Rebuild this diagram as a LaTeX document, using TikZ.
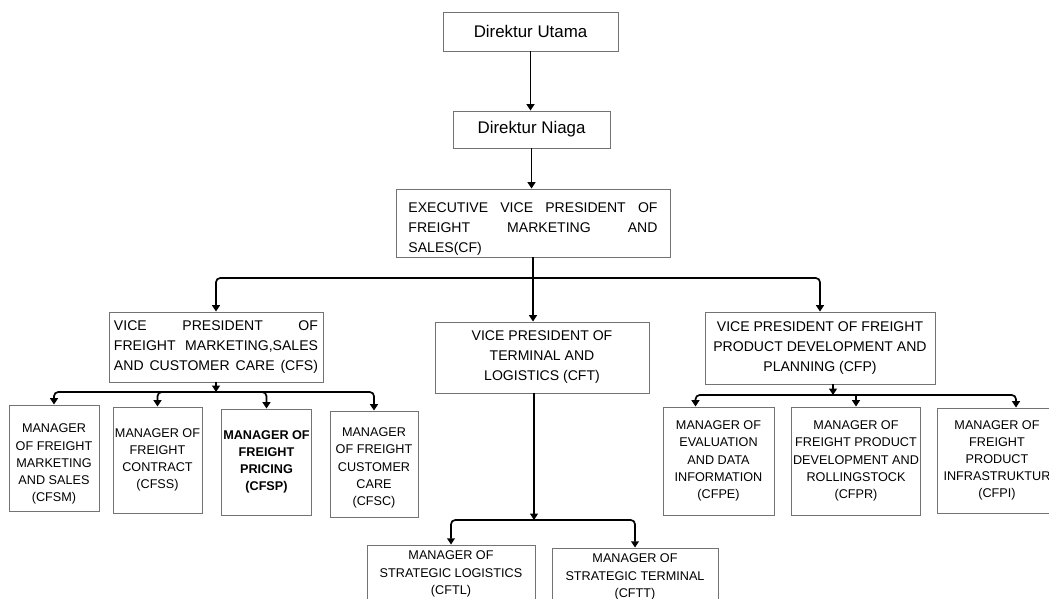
\documentclass[tikz,border=0pt]{standalone}
\usepackage{fontspec}
\setmainfont{Liberation Sans}
\usetikzlibrary{arrows.meta,positioning}

\begin{document}
\begin{tikzpicture}[x=0.025cm,y=-0.025cm]
  \tikzset{box/.style = {shape=rectangle,draw=black!55,line width=0.6pt,inner sep=1pt,align=center}}
  \tikzset{dirbox/.style = {box,font=\fontsize{12}{14}\selectfont}}
  \tikzset{vpbox/.style = {box,font=\fontsize{10}{14.2}\selectfont}}
  \tikzset{mgrbox/.style = {box,font=\fontsize{9}{12.2}\selectfont,minimum height=2.65cm}}
  \tikzset{%
  tipA/.tip={Triangle[length=4.5pt,width=5.5pt]},
}
  \tikzset{link/.style = {-tipA,line width=1.2pt}}

  \clip (0,0) rectangle (1049,598);

	\node[dirbox,minimum width=4.375cm,minimum height=0.975cm] (DU) at (530.5,31.5) {Direktur Utama};
	\node[dirbox,minimum width=3.925cm,minimum height=0.925cm] (DN) at (531.5,129.5) {Direktur Niaga};

	\node[vpbox,align=left,text width=6.225cm,inner xsep=0.3125cm,minimum height=1.7cm] (EVP) at (533,223)
	  {\rule{0pt}{15pt}EXECUTIVE\hfill VICE\hfill PRESIDENT\hfill OF\\ FREIGHT\hfill MARKETING\hfill AND\\ SALES(CF)};

	\node[vpbox,align=left,text width=5.1cm,inner xsep=0.125cm,minimum height=1.75cm] (CFS) at (216,347)
	  {VICE\hfill PRESIDENT\hfill OF\\ FREIGHT\hfill MARKETING,SALES\\ AND\hfill CUSTOMER\hfill CARE\hfill (CFS)};
	\node[vpbox,minimum width=5.35cm,minimum height=1.775cm] (CFT) at (542,357.5)
	  {VICE PRESIDENT OF\\ TERMINAL AND\\ LOGISTICS (CFT)};
	\node[vpbox,minimum width=5.75cm,minimum height=1.8cm] (CFP) at (820,348)
	  {VICE PRESIDENT OF FREIGHT\\ PRODUCT DEVELOPMENT AND\\ PLANNING (CFP)};

	\node[mgrbox,minimum width=2.25cm] (CFSM) at (54,458) {\rule{0pt}{15pt}MANAGER\\ OF FREIGHT\\ MARKETING\\ AND SALES\\ (CFSM)};
	\node[mgrbox,minimum width=2.225cm] (CFSS) at (157.5,460) {MANAGER OF\\ FREIGHT\\ CONTRACT\\ (CFSS)};
	\node[mgrbox,minimum width=2.225cm,font=\fontsize{9}{12.2}\selectfont\bfseries] (CFSP) at (266.5,462) {MANAGER OF\\ FREIGHT\\ PRICING\\ (CFSP)};
	\node[mgrbox,minimum width=2.2cm] (CFSC) at (374,464) {\rule{0pt}{12pt}MANAGER\\ OF FREIGHT\\ CUSTOMER\\ CARE\\ (CFSC)};

	\node[mgrbox,minimum width=2.775cm,minimum height=2.7cm] (CFPE) at (718.5,461) {MANAGER OF\\ EVALUATION\\ AND DATA\\ INFORMATION\\ (CFPE)};
	\node[mgrbox,minimum width=3.2cm,minimum height=2.7cm] (CFPR) at (856,461) {MANAGER OF\\ FREIGHT PRODUCT\\ DEVELOPMENT AND\\ ROLLINGSTOCK\\ (CFPR)};
	\node[mgrbox,minimum width=3.0cm,minimum height=2.625cm] (CFPI) at (997,460.5) {MANAGER OF\\ FREIGHT\\ PRODUCT\\ INFRASTRUKTUR\\ (CFPI)};

	\node[mgrbox,minimum width=4.2cm,minimum height=1.45cm] (CFTL) at (451,574) {MANAGER OF\\ STRATEGIC LOGISTICS\\ (CFTL)};
	\node[mgrbox,minimum width=4.15cm,minimum height=1.45cm] (CFTT) at (635,577) {MANAGER OF\\ STRATEGIC TERMINAL\\ (CFTT)};

	\coordinate (busA) at (533,278);
	\coordinate (busS) at (216,392);
	\coordinate (busT) at (534,520);
	\coordinate (busP) at (833,395);

    \draw[link] (DU.south) -- (DU.south |- DN.north);
    \draw[link] (DN.south) -- (DN.south |- EVP.north);
    \draw[link] (EVP.south) -- (EVP.south |- CFT.north);
    \foreach \to in {CFS, CFP}
    \draw[link,rounded corners=3pt] (busA) -| (\to.north);

    \draw[link] (CFS.south) -- (busS);
    \foreach \to in {CFSM, CFSS, CFSP, CFSC}
    \draw[link,rounded corners=3pt] (busS) -| (\to.north);

    \draw[link] (CFT.south -| busT) -- (busT);
    \foreach \to in {CFTL, CFTT}
    \draw[link,rounded corners=3pt] (busT) -| (\to.north);

    \draw[link] (CFP.south -| busP) -- (busP);
    \draw[link,rounded corners=3pt] (busP) -| ([xshift=-0.575cm]CFPE.north);
    \draw[link] (busP) -| (CFPR.north);
    \draw[link,rounded corners=3pt] (busP) -| ([xshift=0.475cm]CFPI.north);

\end{tikzpicture}
\end{document}
